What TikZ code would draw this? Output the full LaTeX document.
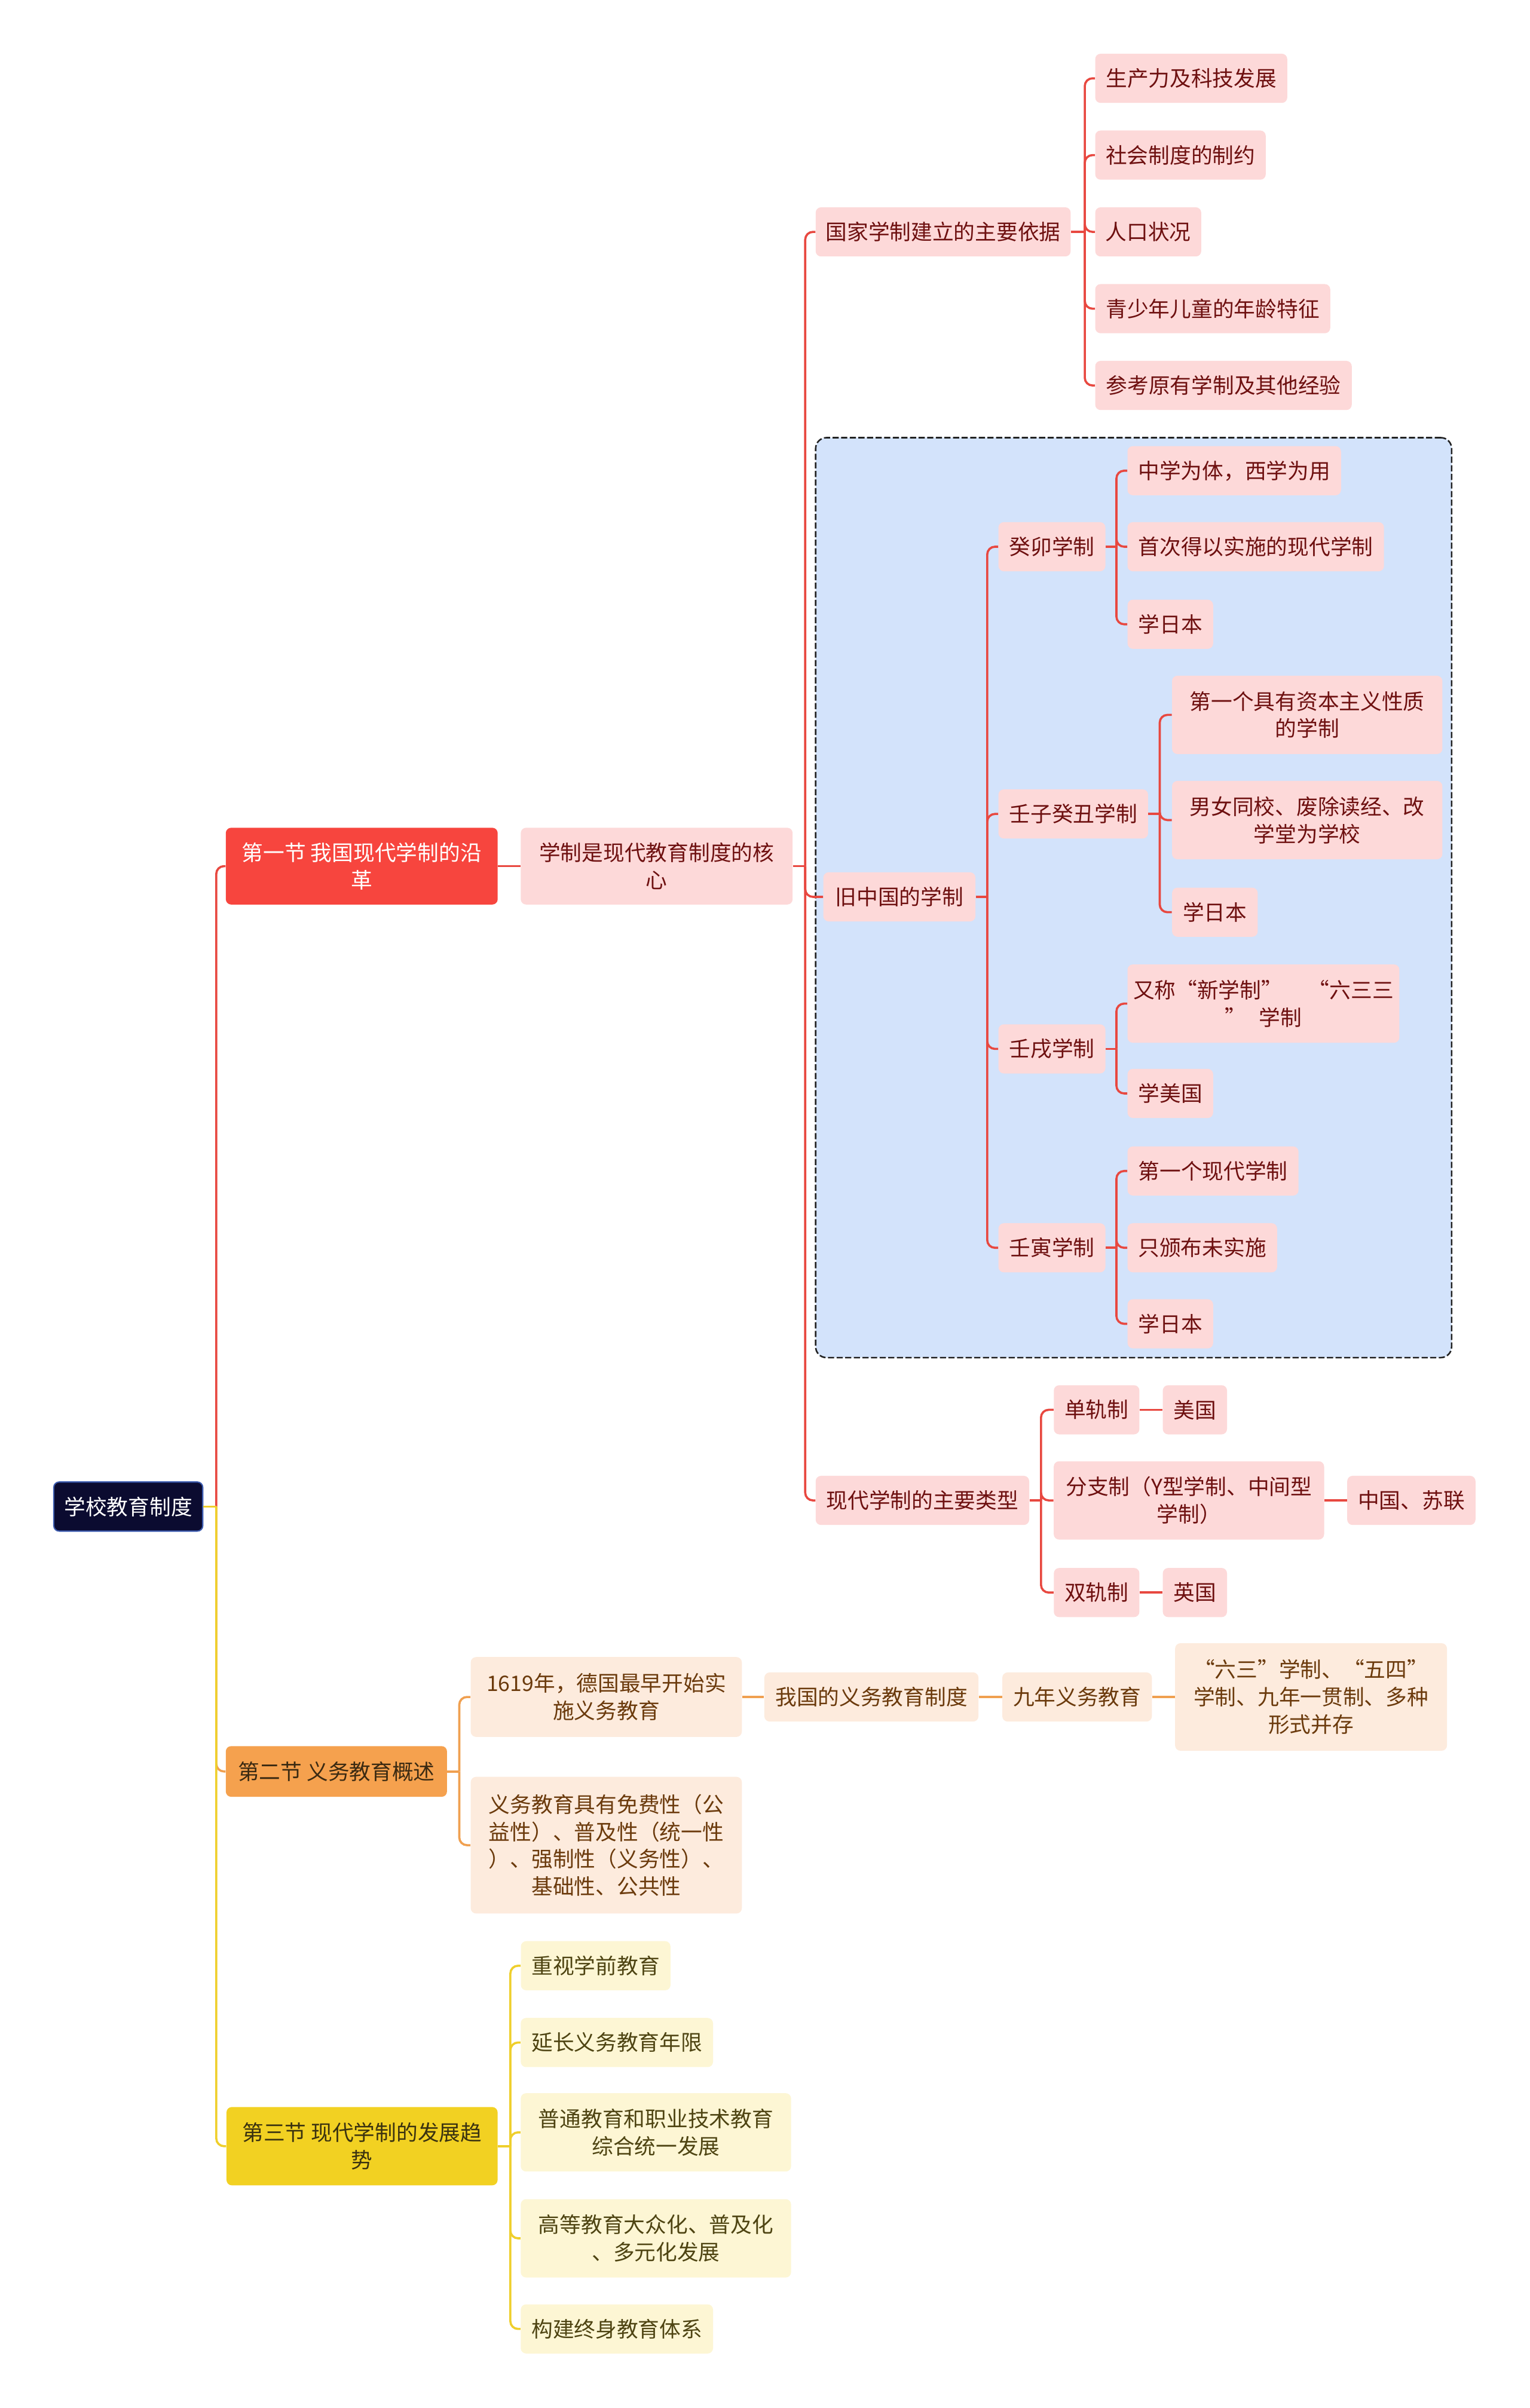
\documentclass[tikz,border=0pt]{standalone}
\usepackage{fontspec}
\setmainfont{Noto Sans CJK SC}
\usetikzlibrary{calc}
\definecolor{rootfill}{HTML}{0B0B30}
\definecolor{rootborder}{HTML}{3D5CB0}
\definecolor{redfill}{HTML}{F7453E}
\definecolor{redline}{HTML}{E84840}
\definecolor{pinkfill}{HTML}{FDD9D9}
\definecolor{pinktext}{HTML}{6E1010}
\definecolor{bluefill}{HTML}{D3E3FB}
\definecolor{dashcol}{HTML}{222222}
\definecolor{orangefill}{HTML}{F5A14E}
\definecolor{orangeline}{HTML}{F0A050}
\definecolor{orangetext}{HTML}{3B2A12}
\definecolor{peachfill}{HTML}{FDEBDD}
\definecolor{peachtext}{HTML}{6B3A0C}
\definecolor{yellowfill}{HTML}{F2D122}
\definecolor{yellowline}{HTML}{EFCF2C}
\definecolor{yellowdark}{HTML}{3A3210}
\definecolor{lightyellow}{HTML}{FDF6D4}
\definecolor{yellowtext}{HTML}{4E4412}
\tikzset{
  box/.style={rounded corners=3.5pt, inner sep=0pt, align=center, anchor=center,
    font=\fontsize{13.9}{17.8}\selectfont},
  rootbox/.style={box, fill=rootfill, draw=rootborder, line width=0.8pt, text=white},
  redbox/.style={box, fill=redfill, text=white},
  orangebox/.style={box, fill=orangefill, text=orangetext},
  yellowbox/.style={box, fill=yellowfill, text=yellowdark},
  pinkbox/.style={box, fill=pinkfill, text=pinktext},
  peachbox/.style={box, fill=peachfill, text=peachtext},
  lybox/.style={box, fill=lightyellow, text=yellowtext},
  wh/.style 2 args={minimum width=#1, minimum height=#2},
  redl/.style={draw=redline, line width=1.4pt, rounded corners=5pt},
  orangel/.style={draw=orangeline, line width=1.4pt, rounded corners=5pt},
  yellowl/.style={draw=yellowline, line width=1.4pt, rounded corners=5pt},
  groupbox/.style={draw=dashcol, fill=bluefill, line width=1pt, dash pattern=on 4pt off 1.6pt,
    rounded corners=7pt, inner sep=0pt},
}
\begin{document}
\begin{tikzpicture}[x=1pt,y=-1pt]
\fill[white] (0,0) rectangle (996,1568);
\useasboundingbox (0,0) rectangle (996,1568);

% group box
\node[groupbox, wh={414}{599}] (oldbox) at (738,584.5) {};

% root and sections
\node[rootbox, wh={97}{32}] (root) at (83.5,981) {学校教育制度};
\node[redbox, wh={177}{50}] (s1) at (235.5,564) {第一节 我国现代学制的沿\\革};
\node[orangebox, wh={144}{33}] (s2) at (219,1153.5) {第二节 义务教育概述};
\node[yellowbox, wh={176.5}{51}] (s3) at (235.7,1397.5) {第三节 现代学制的发展趋\\势};

% section 1
\node[pinkbox, wh={177}{50}] (core) at (427.5,564) {学制是现代教育制度的核\\心};
\node[pinkbox, wh={166}{32}] (basis) at (614,151) {国家学制建立的主要依据};
\node[pinkbox, wh={99}{32}] (old) at (585.5,584) {旧中国的学制};
\node[pinkbox, wh={139}{32}] (types) at (600.5,977) {现代学制的主要类型};

\node[pinkbox, wh={125}{32}] (b1) at (775.5,51) {生产力及科技发展};
\node[pinkbox, wh={111}{32}] (b2) at (768.5,101) {社会制度的制约};
\node[pinkbox, wh={69}{32}] (b3) at (747.5,151) {人口状况};
\node[pinkbox, wh={153}{32}] (b4) at (789.5,201) {青少年儿童的年龄特征};
\node[pinkbox, wh={167}{32}] (b5) at (796.5,251) {参考原有学制及其他经验};

\node[pinkbox, wh={69.6}{32}] (g1) at (684.8,356) {癸卯学制};
\node[pinkbox, wh={97.4}{32}] (g2) at (698.7,530) {壬子癸丑学制};
\node[pinkbox, wh={69.6}{32}] (g3) at (684.8,683) {壬戌学制};
\node[pinkbox, wh={69.6}{32}] (g4) at (684.8,812.5) {壬寅学制};

\node[pinkbox, wh={139}{32}] (g11) at (803.5,306.5) {中学为体，西学为用};
\node[pinkbox, wh={167}{32}] (g12) at (817.5,356) {首次得以实施的现代学制};
\node[pinkbox, wh={55.7}{32}] (g13) at (761.9,406.5) {学日本};

\node[pinkbox, wh={176}{51}] (g21) at (851,465.5) {第一个具有资本主义性质\\的学制};
\node[pinkbox, wh={176}{51}] (g22) at (851,534) {男女同校、废除读经、改\\学堂为学校};
\node[pinkbox, wh={55.7}{32}] (g23) at (790.9,594) {学日本};

\node[pinkbox, wh={177}{51}] (g31) at (822.5,653.5) {又称“新学制”\hspace{1.2em}“六三三\\”\hspace{0.6em}学制};
\node[pinkbox, wh={55.7}{32}] (g32) at (761.9,712) {学美国};

\node[pinkbox, wh={111.3}{32}] (g41) at (789.7,762.5) {第一个现代学制};
\node[pinkbox, wh={97.4}{32}] (g42) at (782.7,812.5) {只颁布未实施};
\node[pinkbox, wh={55.7}{32}] (g43) at (761.9,862) {学日本};

\node[pinkbox, wh={55.7}{32}] (t1) at (713.9,918) {单轨制};
\node[pinkbox, wh={41.8}{32}] (t1a) at (777.9,918) {美国};
\node[pinkbox, wh={176}{51}] (t2) at (774,977) {分支制（Y型学制、中间型\\学制）};
\node[pinkbox, wh={83.5}{32}] (t2a) at (918.8,977) {中国、苏联};
\node[pinkbox, wh={55.7}{32}] (t3) at (713.9,1037) {双轨制};
\node[pinkbox, wh={41.8}{32}] (t3a) at (777.9,1037) {英国};

% section 2
\node[peachbox, wh={176.5}{52}] (o1) at (394.7,1105) {1619年，德国最早开始实\\施义务教育};
\node[peachbox, wh={176.5}{89}] (o2) at (394.7,1201.5) {义务教育具有免费性（公\\益性）、普及性（统一性\\）、强制性（义务性）、\\基础性、公共性};
\node[peachbox, wh={139.4}{32}] (o3) at (567.3,1105) {我国的义务教育制度};
\node[peachbox, wh={97.4}{32}] (o4) at (701.2,1105) {九年义务教育};
\node[peachbox, wh={177}{70}] (o5) at (853.5,1105) {“六三”学制、“五四”\\学制、九年一贯制、多种\\形式并存};

% section 3
\node[lybox, wh={97.4}{32}] (y1) at (387.8,1280) {重视学前教育};
\node[lybox, wh={125.2}{32}] (y2) at (401.6,1330) {延长义务教育年限};
\node[lybox, wh={176}{51}] (y3) at (427,1388.5) {普通教育和职业技术教育\\综合统一发展};
\node[lybox, wh={176}{51}] (y4) at (427,1457.5) {高等教育大众化、普及化\\、多元化发展};
\node[lybox, wh={125.2}{32}] (y5) at (401.6,1516.5) {构建终身教育体系};

% junctions
\coordinate (jr) at ($(root.east)+(8.4,0)$);
\coordinate (jc) at ($(core.east)+(8,0)$);
\coordinate (jb) at ($(basis.east)+(9,0)$);
\coordinate (jo) at ($(old.east)+(7.5,0)$);
\coordinate (jg1) at ($(g1.east)+(7,0)$);
\coordinate (jg2) at ($(g2.east)+(7.4,0)$);
\coordinate (jg3) at ($(g3.east)+(7,0)$);
\coordinate (jg4) at ($(g4.east)+(7,0)$);
\coordinate (jt) at ($(types.east)+(7.5,0)$);
\coordinate (js2) at ($(s2.east)+(7.8,0)$);
\coordinate (js3) at ($(s3.east)+(8.1,0)$);

% connectors: root
\draw[redl] (jr) |- (s1.west);
\draw[orangel] (jr) |- (s2.west);
\draw[yellowl] (jr) |- (s3.west);
\draw[yellowl] (root.east) -- (jr);

% section 1
\draw[redl] (s1.east) -- (core.west);
\draw[redl] (core.east) -- (jc);
\foreach \c in {basis,old,types} \draw[redl] (jc) |- (\c.west);
\draw[redl] (basis.east) -- (jb);
\foreach \c in {b1,b2,b3,b4,b5} \draw[redl] (jb) |- (\c.west);
\draw[redl] (old.east) -- (jo);
\foreach \c in {g1,g2,g3,g4} \draw[redl] (jo) |- (\c.west);
\draw[redl] (g1.east) -- (jg1);
\foreach \c in {g11,g12,g13} \draw[redl] (jg1) |- (\c.west);
\draw[redl] (g2.east) -- (jg2);
\foreach \c in {g21,g22,g23} \draw[redl] (jg2) |- (\c.west);
\draw[redl] (g3.east) -- (jg3);
\foreach \c in {g31,g32} \draw[redl] (jg3) |- (\c.west);
\draw[redl] (g4.east) -- (jg4);
\foreach \c in {g41,g42,g43} \draw[redl] (jg4) |- (\c.west);
\draw[redl] (types.east) -- (jt);
\foreach \c in {t1,t2,t3} \draw[redl] (jt) |- (\c.west);
\draw[redl] (t1.east) -- (t1a.west);
\draw[redl] (t2.east) -- (t2a.west);
\draw[redl] (t3.east) -- (t3a.west);

% section 2
\draw[orangel] (s2.east) -- (js2);
\foreach \c in {o1,o2} \draw[orangel] (js2) |- (\c.west);
\draw[orangel] (o1.east) -- (o3.west);
\draw[orangel] (o3.east) -- (o4.west);
\draw[orangel] (o4.east) -- (o5.west);

% section 3
\draw[yellowl] (s3.east) -- (js3);
\foreach \c in {y1,y2,y3,y4,y5} \draw[yellowl] (js3) |- (\c.west);
\end{tikzpicture}
\end{document}
